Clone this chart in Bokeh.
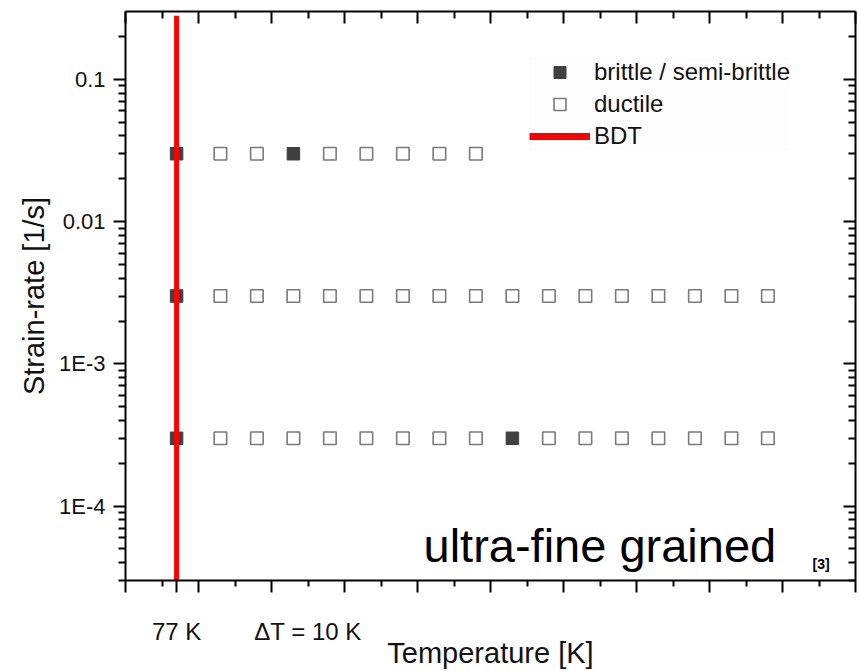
from bokeh.plotting import figure
from bokeh.models import (FixedTicker, LinearAxis, LogAxis, Range1d, Label,
                          Legend, LegendItem, CustomJSTickFormatter, ColumnDataSource)
from bokeh.embed import file_html
from bokeh.resources import INLINE

# ---------------- data ----------------
# strain rates tested [1/s]
rate_fast = 0.03
rate_mid = 0.003
rate_slow = 0.0003

# brittle / semi-brittle tests (temperature [K], strain rate [1/s])
brittle_T = [77, 109, 77, 77, 169]
brittle_rate = [0.03, 0.03, 0.003, 0.0003, 0.0003]

# ductile tests, per strain rate (temperature [K])
ductile_T_fast = [89, 99, 119, 129, 139, 149, 159]
ductile_T_mid = [89, 99, 109, 119, 129, 139, 149, 159, 169, 179, 189, 199, 209, 219, 229, 239]
ductile_T_slow = [89, 99, 109, 119, 129, 139, 149, 159, 179, 189, 199, 209, 219, 229, 239]

# brittle-to-ductile transition line
bdt_T = [77]
bdt_rate_top = [0.28]
bdt_rate_bottom = [3e-5]

# axis ranges / ticks / labels
T_range = (63, 263)
rate_range = (3e-5, 0.3)
T_major = [63, 83, 103, 123, 143, 163, 183, 203, 223, 243, 263]
T_minor = [73, 93, 113, 133, 153, 173, 193, 213, 233, 253]
rate_major = [1e-4, 1e-3, 1e-2, 1e-1]
T_label_pos = [77, 113]
T_label_text = ["77 K", "\u0394T = 10 K"]

ductile_T = ductile_T_fast + ductile_T_mid + ductile_T_slow
ductile_rate = ([rate_fast] * len(ductile_T_fast) + [rate_mid] * len(ductile_T_mid)
                + [rate_slow] * len(ductile_T_slow))

rate_minor = []
for d in [1e-5, 1e-4, 1e-3, 1e-2, 1e-1]:
    for m in range(2, 10):
        rate_minor.append(m * d)

FONT = "Liberation Sans"
INK = "#111111"

p = figure(width=860, height=671,
           x_range=Range1d(*T_range), y_range=Range1d(*rate_range),
           y_axis_type="log", output_backend="svg", toolbar_location=None,
           min_border_left=125, min_border_right=5, min_border_top=11,
           min_border_bottom=91)
p.xgrid.visible = False
p.ygrid.visible = False
p.outline_line_color = None
p.background_fill_color = "white"
p.border_fill_color = "white"

xt = FixedTicker(ticks=T_major, minor_ticks=T_minor)
yt = FixedTicker(ticks=rate_major, minor_ticks=rate_minor)

blank = CustomJSTickFormatter(code="return '';")


def style_axis(ax, inward):
    ax.axis_line_color = "black"
    ax.axis_line_width = 2
    ax.major_tick_line_color = "black"
    ax.minor_tick_line_color = "black"
    ax.major_tick_line_width = 2
    ax.minor_tick_line_width = 2
    if inward:
        ax.major_tick_in = 12
        ax.major_tick_out = 0
        ax.minor_tick_in = 7
        ax.minor_tick_out = 0
    else:
        ax.major_tick_in = 0
        ax.major_tick_out = 12
        ax.minor_tick_in = 0
        ax.minor_tick_out = 7


def unlabelled(ax):
    ax.formatter = blank
    ax.major_label_text_font_size = "2px"
    ax.major_label_standoff = 0


# bottom axis: regular ticks plus the 77 K tick
xa = p.xaxis[0]
xa.ticker = FixedTicker(ticks=T_major + T_label_pos[:1], minor_ticks=T_minor)
style_axis(xa, False)
xa.minor_tick_out = 6
unlabelled(xa)

# second bottom axis carrying the texts under the axis
xb = LinearAxis(ticker=FixedTicker(ticks=T_label_pos, minor_ticks=[]))
xb.formatter = CustomJSTickFormatter(args=dict(pos=T_label_pos, txt=T_label_text), code="""
for (let i = 0; i < pos.length; i++) { if (Math.abs(tick - pos[i]) < 1e-6) return txt[i]; }
return '';
""")
xb.axis_line_color = None
xb.major_tick_line_color = None
xb.minor_tick_line_color = None
xb.major_tick_in = 0
xb.major_tick_out = 0
xb.major_label_text_font = FONT
xb.major_label_text_font_size = "24px"
xb.major_label_text_color = INK
xb.major_label_standoff = 25
xb.axis_label = "Temperature [K]"
xb.axis_label_text_font = FONT
xb.axis_label_text_font_size = "29px"
xb.axis_label_text_font_style = "normal"
xb.axis_label_text_color = INK
xb.axis_label_standoff = -11
p.add_layout(xb, "below")

# left axis
ya = p.yaxis[0]
ya.ticker = yt
style_axis(ya, False)
ya.formatter = CustomJSTickFormatter(code="""
const e = Math.round(Math.log10(tick));
if (e == -1) return "0.1";
if (e == -2) return "0.01";
return "1E" + e;
""")
ya.major_label_text_font = FONT
ya.major_label_text_font_size = "22px"
ya.major_label_text_color = INK
ya.major_label_standoff = 8
ya.axis_label = "Strain-rate [1/s]"
ya.axis_label_text_font = FONT
ya.axis_label_text_font_size = "29px"
ya.axis_label_text_font_style = "normal"
ya.axis_label_text_color = INK
ya.axis_label_standoff = 6

# top & right axes (ticks pointing inward)
top = LinearAxis(ticker=xt)
style_axis(top, True)
unlabelled(top)
p.add_layout(top, "above")
right = LogAxis(ticker=yt)
style_axis(right, True)
unlabelled(right)
p.add_layout(right, "right")

# markers
src_b = ColumnDataSource(dict(T=brittle_T, rate=brittle_rate))
src_d = ColumnDataSource(dict(T=ductile_T, rate=ductile_rate))
r_d = p.scatter("T", "rate", source=src_d, marker="square", size=12.5,
                fill_color="white", line_color="#7a7a7a", line_width=1.6)
r_b = p.scatter("T", "rate", source=src_b, marker="square", size=12.5,
                fill_color="#404040", line_color="#404040", line_width=1)

# BDT line (drawn over the markers)
p.segment(x0=bdt_T, y0=bdt_rate_top, x1=bdt_T, y1=bdt_rate_bottom,
          line_color="red", line_width=5, line_cap="butt")
# legend sample for the BDT line (no data of its own)
r_bdt = p.line(x=[float("nan")], y=[float("nan")], line_color="red", line_width=7)

legend = Legend(items=[LegendItem(label="brittle / semi-brittle", renderers=[r_b]),
                       LegendItem(label="ductile", renderers=[r_d]),
                       LegendItem(label="BDT", renderers=[r_bdt])],
                location=(404, 429), margin=0, padding=10, spacing=2,
                glyph_width=61, glyph_height=30, label_height=30, label_standoff=4,
                label_text_font=FONT, label_text_font_size="24px", label_text_color=INK,
                border_line_color=None, background_fill_color="#fdfdfd",
                background_fill_alpha=1)
p.add_layout(legend)

# texts inside the frame
p.add_layout(Label(x=298, y=35, x_units="screen", y_units="screen",
                   text="ultra-fine grained", text_font=FONT, text_font_size="47px",
                   text_color="black", text_baseline="alphabetic"))
p.add_layout(Label(x=687, y=17, x_units="screen", y_units="screen",
                   text="[3]", text_font=FONT, text_font_size="14px", text_font_style="bold",
                   text_color="black", text_baseline="alphabetic"))

open("out.html", "w").write(file_html(p, INLINE))
